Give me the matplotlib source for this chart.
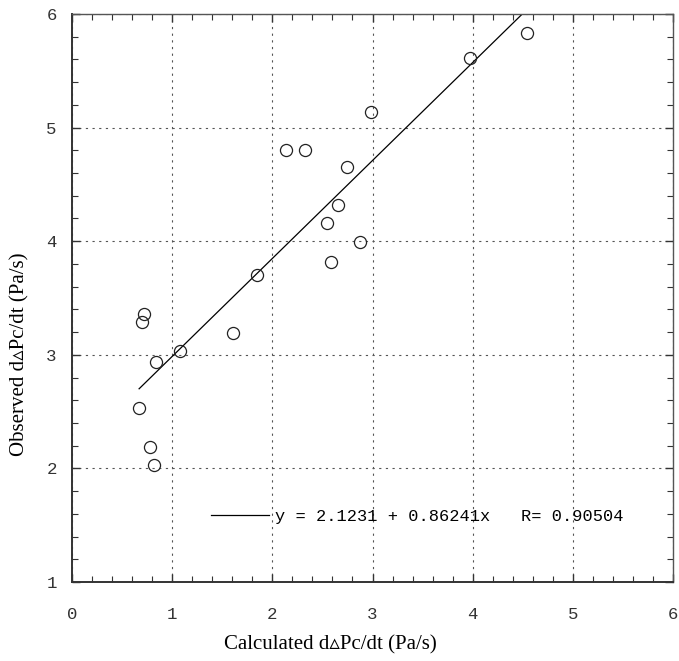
import numpy as np
import matplotlib
matplotlib.use("Agg")
import matplotlib.pyplot as plt
from matplotlib.ticker import MultipleLocator

# observed vs calculated rates
calc = [0.67, 0.70, 0.72, 0.78, 0.82, 0.84, 1.08, 1.61, 1.85, 2.14,
        2.33, 2.55, 2.59, 2.66, 2.75, 2.88, 2.99, 3.97, 4.54]
obs = [2.53, 3.29, 3.36, 2.19, 2.03, 2.94, 3.03, 3.19, 3.70, 4.80,
       4.80, 4.16, 3.82, 4.32, 4.65, 3.99, 5.14, 5.61, 5.83]

# linear fit reported on the chart
a, b, r = 2.1231, 0.86241, 0.90504
fit_label = "y = %.4f + %.5fx   R= %.5f" % (a, b, r)

mono = "Liberation Mono"
serif = ["Liberation Serif", "DejaVu Serif", "DejaVu Sans"]

fig = plt.figure(figsize=(6.79, 6.61), dpi=100)
ax = fig.add_axes([72 / 679, 1 - 582 / 661, 601 / 679, 568 / 661])

xfit = np.array([min(calc), max(calc)])
ax.plot(xfit, a + b * xfit, color="black", lw=0.9, label=fit_label)
ax.plot(calc, obs, "o", ms=8.7, mfc="none", mec="#222222", mew=0.9)

ax.set_xlim(0, 6)
ax.set_ylim(1, 6)
ax.xaxis.set_major_locator(MultipleLocator(1))
ax.yaxis.set_major_locator(MultipleLocator(1))
ax.xaxis.set_minor_locator(MultipleLocator(0.2))
ax.yaxis.set_minor_locator(MultipleLocator(0.2))

ax.grid(True, which="major", color="#555555", lw=0.8, linestyle=(0, (2, 4)))
ax.tick_params(which="both", direction="in", top=True, right=True,
               color="#333333")
ax.tick_params(which="major", length=6, width=1)
ax.tick_params(which="minor", length=4, width=0.8)
ax.tick_params(axis="x", pad=18)
ax.tick_params(axis="y", pad=11)
for lab in ax.get_xticklabels() + ax.get_yticklabels():
    lab.set_fontfamily(mono)
    lab.set_fontsize(12.5)
    lab.set_color("#333333")

for s in ["left", "bottom"]:
    ax.spines[s].set_linewidth(1.4)
    ax.spines[s].set_color("#333333")
for s in ["top", "right"]:
    ax.spines[s].set_linewidth(1.0)
    ax.spines[s].set_color("#555555")

leg = ax.legend(loc="center left", bbox_to_anchor=(0.231, 0.116),
                frameon=False, handlelength=3.4, handletextpad=0.4,
                borderpad=0, borderaxespad=0,
                prop={"family": mono, "size": 12.25})

fig.text(330 / 679, 1 - 645 / 661, "Calculated d\u25b5Pc/dt (Pa/s)",
         ha="center", va="center", fontsize=15, family=serif)
fig.text(20 / 679, 1 - 354 / 661, "Observed d\u25b5Pc/dt (Pa/s)",
         ha="center", va="center", rotation=90, fontsize=15, family=serif)

fig.savefig("out.png", dpi=100)
